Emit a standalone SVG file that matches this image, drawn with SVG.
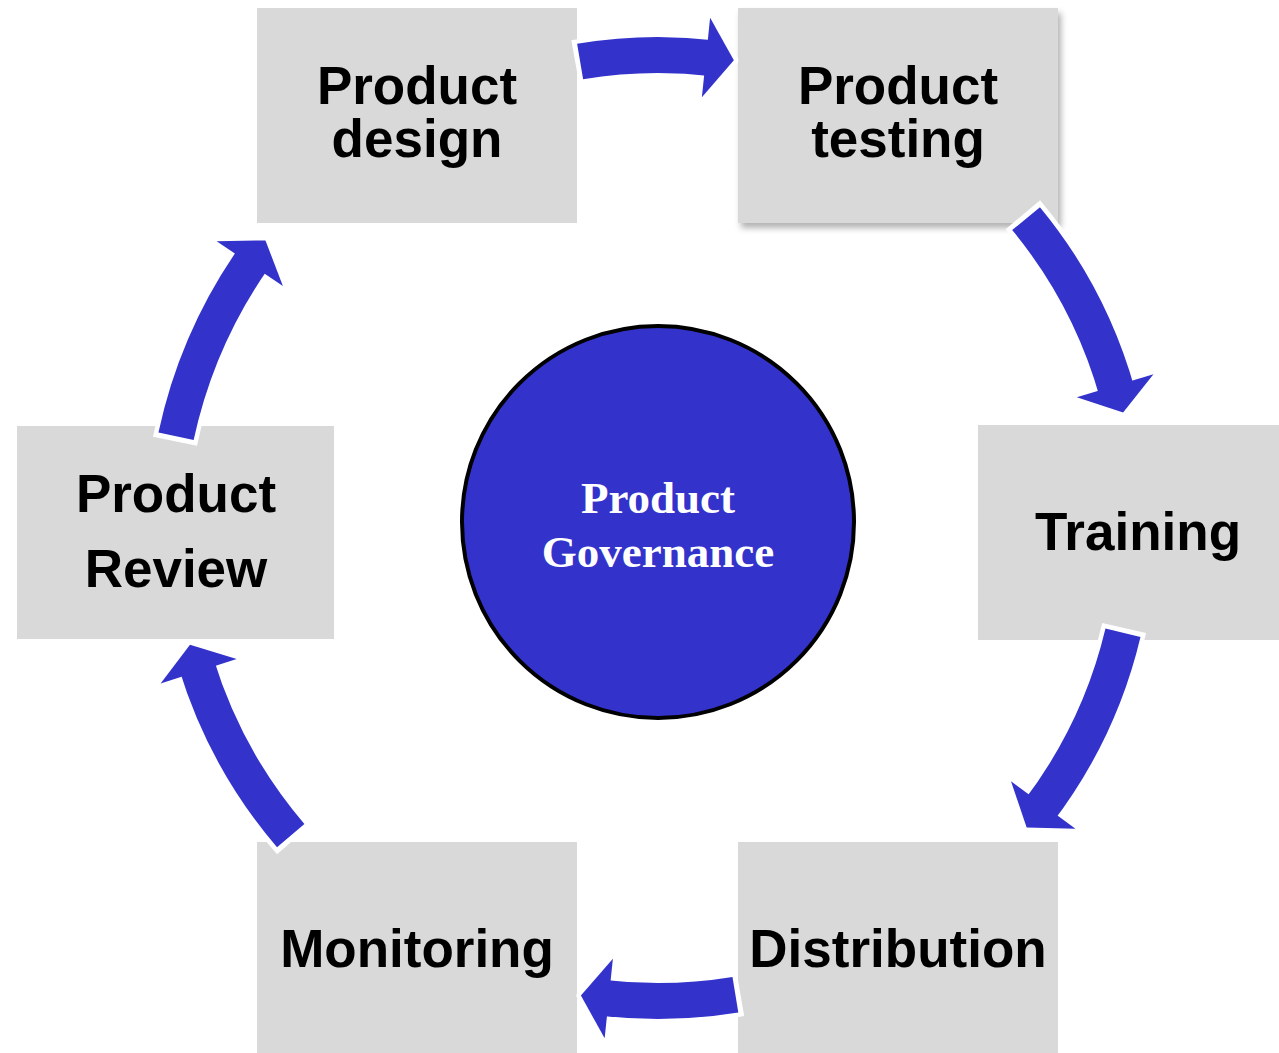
<svg xmlns="http://www.w3.org/2000/svg" xmlns:xlink="http://www.w3.org/1999/xlink" width="1279" height="1053" viewBox="0 0 1279 1053">
<style>
.box{fill:#D9D9D9}
.lbl{font-family:"Liberation Sans",Arial,sans-serif;font-weight:bold;font-size:53px;fill:#000;text-anchor:middle}
.ctr{font-family:"Liberation Serif","Times New Roman",serif;font-weight:bold;font-size:45px;fill:#fff;text-anchor:middle}
.sw{fill:none;stroke:#fff;stroke-width:45}
.sb{fill:none;stroke:#3333CC;stroke-width:36}
.hw{fill:#fff;stroke:#fff;stroke-width:9;stroke-linejoin:round}
.hb{fill:#3333CC}
</style>
<defs>
<polygon id="head" points="0,-40 28,0 0,40"/>
<filter id="shadow" x="-10%" y="-10%" width="125%" height="125%">
<feDropShadow dx="3" dy="5" stdDeviation="3" flood-color="#000" flood-opacity="0.3"/>
</filter>
</defs>
<rect width="1279" height="1053" fill="#fff"/>
<g id="node-design"><rect class="box" x="257" y="8" width="320" height="215"/><text class="lbl" x="417" y="104">Product</text><text class="lbl" x="417" y="157">design</text></g>
<g id="node-testing"><rect class="box" x="738" y="8" width="320" height="215" filter="url(#shadow)"/><text class="lbl" x="898" y="104">Product</text><text class="lbl" x="898" y="157">testing</text></g>
<g id="node-training"><rect class="box" x="978" y="425" width="320" height="215"/><text class="lbl" x="1138" y="550">Training</text></g>
<g id="node-distribution"><rect class="box" x="738" y="842" width="320" height="215"/><text class="lbl" x="898" y="967">Distribution</text></g>
<g id="node-monitoring"><rect class="box" x="257" y="842" width="320" height="215"/><text class="lbl" x="417" y="967">Monitoring</text></g>
<g id="node-review"><rect class="box" x="17" y="426" width="317" height="213"/><text class="lbl" x="176" y="512">Product</text><text class="lbl" x="176" y="587">Review</text></g>
<g id="node-center"><circle cx="658" cy="522" r="196" fill="#3333CC" stroke="#000" stroke-width="4"/><text class="ctr" x="658" y="513">Product</text><text class="ctr" x="658" y="567">Governance</text></g>
<g id="connectors">
<g id="arrow-1">
<circle class="sw" r="467" pathLength="360" stroke-dasharray="16.1 1000" transform="translate(658,522) rotate(-100.2)"/>
<use xlink:href="#head" class="hw" transform="translate(658,522) rotate(-84.1) translate(467,0) rotate(90)"/>
<circle class="sb" r="467" pathLength="360" stroke-dasharray="16.5 1000" transform="translate(658,522) rotate(-99.6)"/>
<use xlink:href="#head" class="hb" transform="translate(658,522) rotate(-84.1) translate(467,0) rotate(90)"/>
</g>
<g id="arrow-2">
<circle class="sw" r="477" pathLength="360" stroke-dasharray="23.5 1000" transform="translate(658,522) rotate(-40.1)"/>
<use xlink:href="#head" class="hw" transform="translate(658,522) rotate(-16.6) translate(477,0) rotate(90)"/>
<circle class="sb" r="477" pathLength="360" stroke-dasharray="23.9 1000" transform="translate(658,522) rotate(-39.5)"/>
<use xlink:href="#head" class="hb" transform="translate(658,522) rotate(-16.6) translate(477,0) rotate(90)"/>
</g>
<g id="arrow-3">
<circle class="sw" r="478" pathLength="360" stroke-dasharray="23.5 1000" transform="translate(658,522) rotate(12.8)"/>
<use xlink:href="#head" class="hw" transform="translate(658,522) rotate(36.3) translate(478,0) rotate(90)"/>
<circle class="sb" r="478" pathLength="360" stroke-dasharray="23.9 1000" transform="translate(658,522) rotate(13.4)"/>
<use xlink:href="#head" class="hb" transform="translate(658,522) rotate(36.3) translate(478,0) rotate(90)"/>
</g>
<g id="arrow-4">
<circle class="sw" r="479" pathLength="360" stroke-dasharray="15.8 1000" transform="translate(658,522) rotate(80.1)"/>
<use xlink:href="#head" class="hw" transform="translate(658,522) rotate(95.9) translate(479,0) rotate(90)"/>
<circle class="sb" r="479" pathLength="360" stroke-dasharray="16.2 1000" transform="translate(658,522) rotate(80.7)"/>
<use xlink:href="#head" class="hb" transform="translate(658,522) rotate(95.9) translate(479,0) rotate(90)"/>
</g>
<g id="arrow-5">
<circle class="sw" r="483" pathLength="360" stroke-dasharray="23.1 1000" transform="translate(658,522) rotate(138.9)"/>
<use xlink:href="#head" class="hw" transform="translate(658,522) rotate(162) translate(483,0) rotate(90)"/>
<circle class="sb" r="483" pathLength="360" stroke-dasharray="23.5 1000" transform="translate(658,522) rotate(139.5)"/>
<use xlink:href="#head" class="hb" transform="translate(658,522) rotate(162) translate(483,0) rotate(90)"/>
</g>
<g id="arrow-6">
<circle class="sw" r="493" pathLength="360" stroke-dasharray="22.55 1000" transform="translate(658,540) rotate(191.55)"/>
<use xlink:href="#head" class="hw" transform="translate(658,540) rotate(214.1) translate(493,0) rotate(90)"/>
<circle class="sb" r="493" pathLength="360" stroke-dasharray="22.95 1000" transform="translate(658,540) rotate(192.15)"/>
<use xlink:href="#head" class="hb" transform="translate(658,540) rotate(214.1) translate(493,0) rotate(90)"/>
</g>
</g>
</svg>
